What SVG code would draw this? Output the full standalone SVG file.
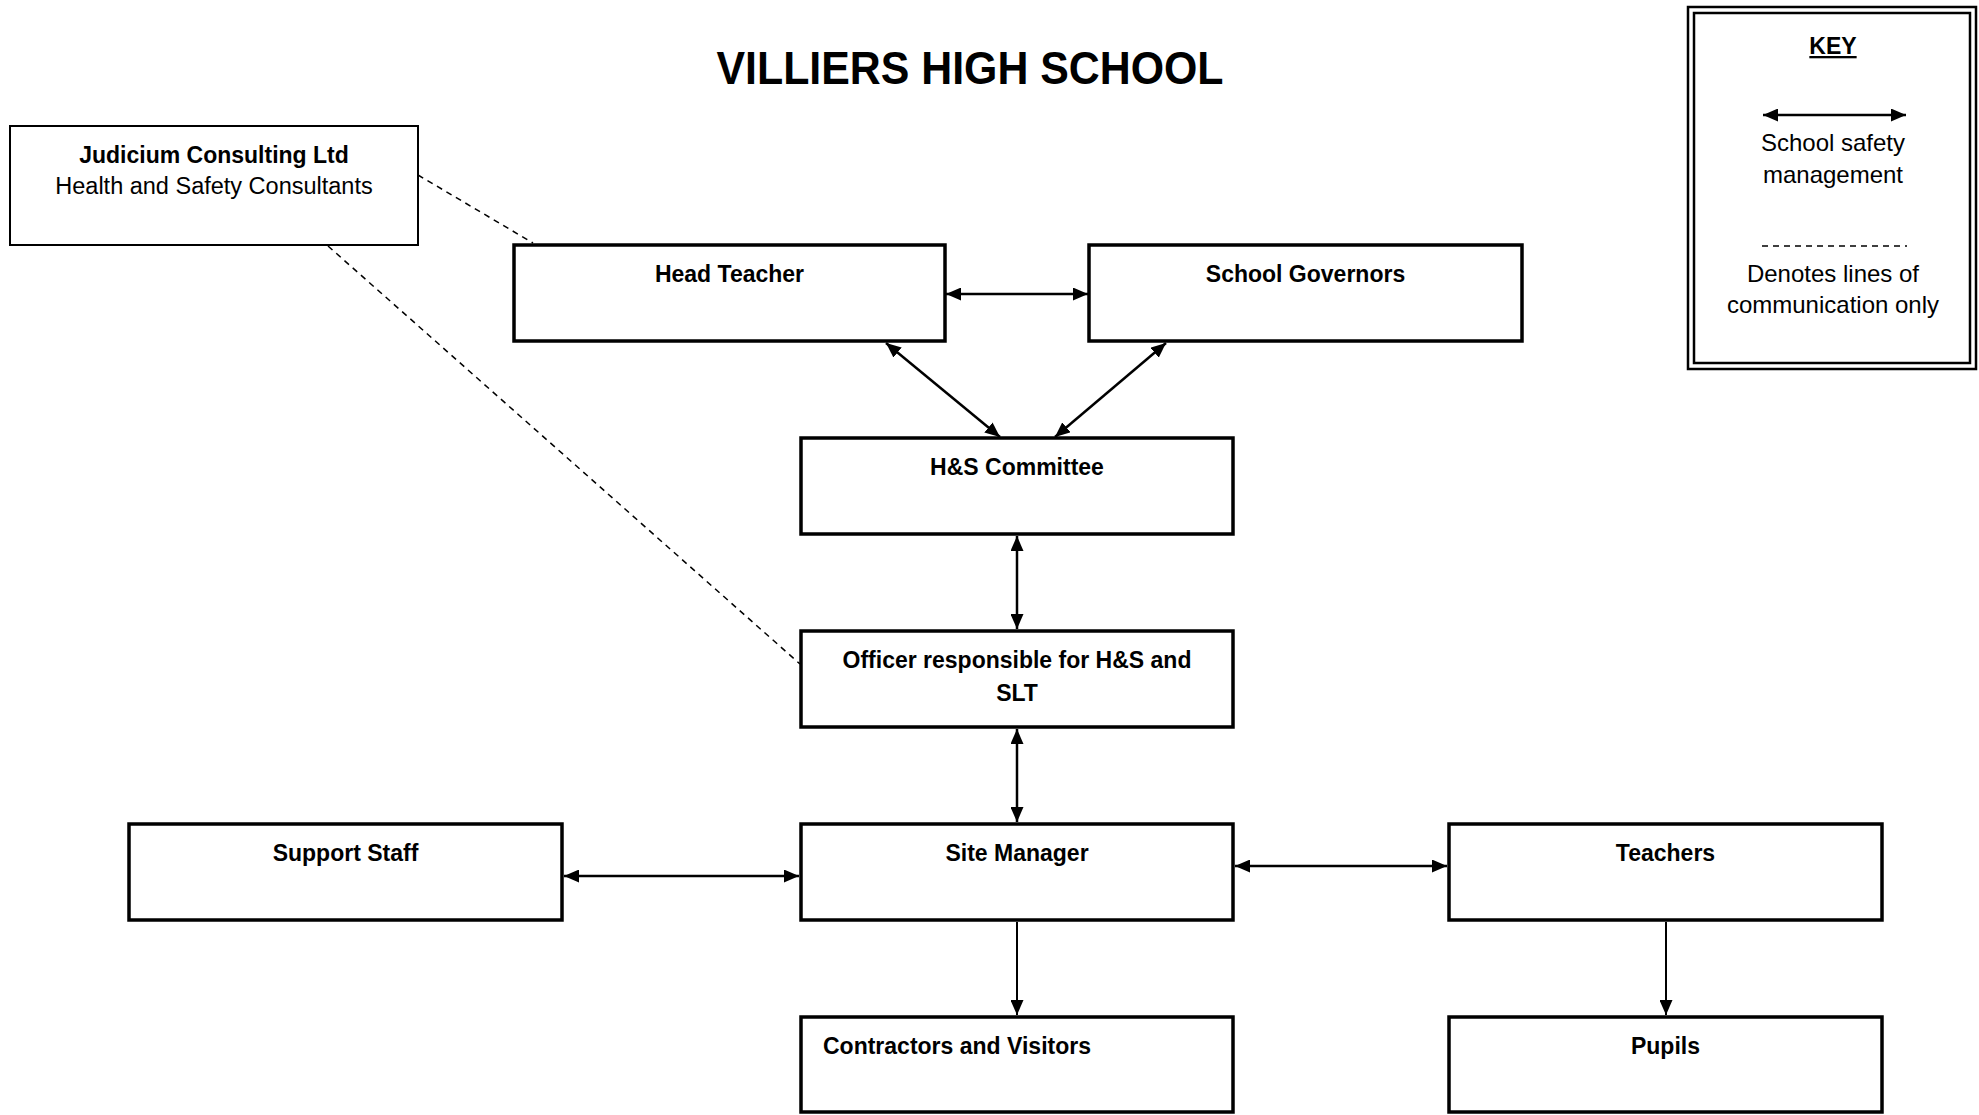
<svg xmlns="http://www.w3.org/2000/svg" width="1979" height="1115" viewBox="0 0 1979 1115">
<style>
.box{fill:#fff;stroke:#000;stroke-width:3.5}
.thin{fill:#fff;stroke:#000;stroke-width:2}
.lbl{font-family:"Liberation Sans",Arial,sans-serif;font-weight:bold;font-size:23px;text-anchor:middle;fill:#000}
.reg{font-family:"Liberation Sans",Arial,sans-serif;font-weight:normal;font-size:24px;text-anchor:middle;fill:#000}
.conn{stroke:#000;stroke-width:2.5;fill:none}
.conn1{stroke:#000;stroke-width:2;fill:none}
.dash{stroke:#000;stroke-width:1.5;fill:none;stroke-dasharray:6 5}
</style>
<defs>
<marker id="ah" viewBox="0 0 15 13" refX="15" refY="6.5" markerWidth="15" markerHeight="13" markerUnits="userSpaceOnUse" orient="auto-start-reverse">
<path d="M0,0 L15,6.5 L0,13 z" fill="#000"/>
</marker>
</defs>
<rect width="1979" height="1115" fill="#fff"/>
<text id="title" x="970" y="84" class="lbl" textLength="507" lengthAdjust="spacingAndGlyphs" style="font-size:46px">VILLIERS HIGH SCHOOL</text>

<g id="connectors">
<line class="dash" x1="418" y1="175" x2="533" y2="243"/>
<line class="dash" x1="328" y1="246" x2="800" y2="664"/>
<line class="conn" x1="946" y1="294" x2="1088" y2="294" marker-start="url(#ah)" marker-end="url(#ah)"/>
<line class="conn" x1="886" y1="343" x2="1000" y2="437" marker-start="url(#ah)" marker-end="url(#ah)"/>
<line class="conn" x1="1166" y1="343" x2="1055" y2="437" marker-start="url(#ah)" marker-end="url(#ah)"/>
<line class="conn" x1="1017" y1="536" x2="1017" y2="629" marker-start="url(#ah)" marker-end="url(#ah)"/>
<line class="conn" x1="1017" y1="729" x2="1017" y2="822" marker-start="url(#ah)" marker-end="url(#ah)"/>
<line class="conn" x1="564" y1="876" x2="799" y2="876" marker-start="url(#ah)" marker-end="url(#ah)"/>
<line class="conn" x1="1235" y1="866" x2="1447" y2="866" marker-start="url(#ah)" marker-end="url(#ah)"/>
<line class="conn1" x1="1017" y1="922" x2="1017" y2="1015" marker-end="url(#ah)"/>
<line class="conn1" x1="1666" y1="922" x2="1666" y2="1015" marker-end="url(#ah)"/>
</g>

<g id="judicium">
<rect class="thin" x="10" y="126" width="408" height="119"/>
<text class="lbl" x="214" y="163">Judicium Consulting Ltd</text>
<text class="reg" x="214" y="194" style="font-size:23.5px">Health and Safety Consultants</text>
</g>
<g id="head-teacher">
<rect class="box" x="514" y="245" width="431" height="96"/>
<text class="lbl" x="729.5" y="282">Head Teacher</text>
</g>
<g id="school-governors">
<rect class="box" x="1089" y="245" width="433" height="96"/>
<text class="lbl" x="1305.5" y="282">School Governors</text>
</g>
<g id="hs-committee">
<rect class="box" x="801" y="438" width="432" height="96"/>
<text class="lbl" x="1017" y="475">H&amp;S Committee</text>
</g>
<g id="officer">
<rect class="box" x="801" y="631" width="432" height="96"/>
<text class="lbl" x="1017" y="668">Officer responsible for H&amp;S and</text>
<text class="lbl" x="1017" y="701">SLT</text>
</g>
<g id="support-staff">
<rect class="box" x="129" y="824" width="433" height="96"/>
<text class="lbl" x="345.5" y="861">Support Staff</text>
</g>
<g id="site-manager">
<rect class="box" x="801" y="824" width="432" height="96"/>
<text class="lbl" x="1017" y="861">Site Manager</text>
</g>
<g id="teachers">
<rect class="box" x="1449" y="824" width="433" height="96"/>
<text class="lbl" x="1665.5" y="861">Teachers</text>
</g>
<g id="contractors">
<rect class="box" x="801" y="1017" width="432" height="95"/>
<text class="lbl" x="823" y="1054" style="text-anchor:start">Contractors and Visitors</text>
</g>
<g id="pupils">
<rect class="box" x="1449" y="1017" width="433" height="95"/>
<text class="lbl" x="1665.5" y="1054">Pupils</text>
</g>

<g id="key">
<rect x="1688" y="7" width="288" height="362" fill="#fff" stroke="#000" stroke-width="2.5"/>
<rect x="1694" y="13" width="276" height="350" fill="none" stroke="#000" stroke-width="2.5"/>
<text class="lbl" x="1833" y="54" text-decoration="underline">KEY</text>
<line class="conn" x1="1763" y1="115" x2="1906" y2="115" marker-start="url(#ah)" marker-end="url(#ah)"/>
<text class="reg" x="1833" y="151">School safety</text>
<text class="reg" x="1833" y="183">management</text>
<line class="dash" x1="1762" y1="246" x2="1907" y2="246"/>
<text class="reg" x="1833" y="282">Denotes lines of</text>
<text class="reg" x="1833" y="313">communication only</text>
</g>
</svg>
